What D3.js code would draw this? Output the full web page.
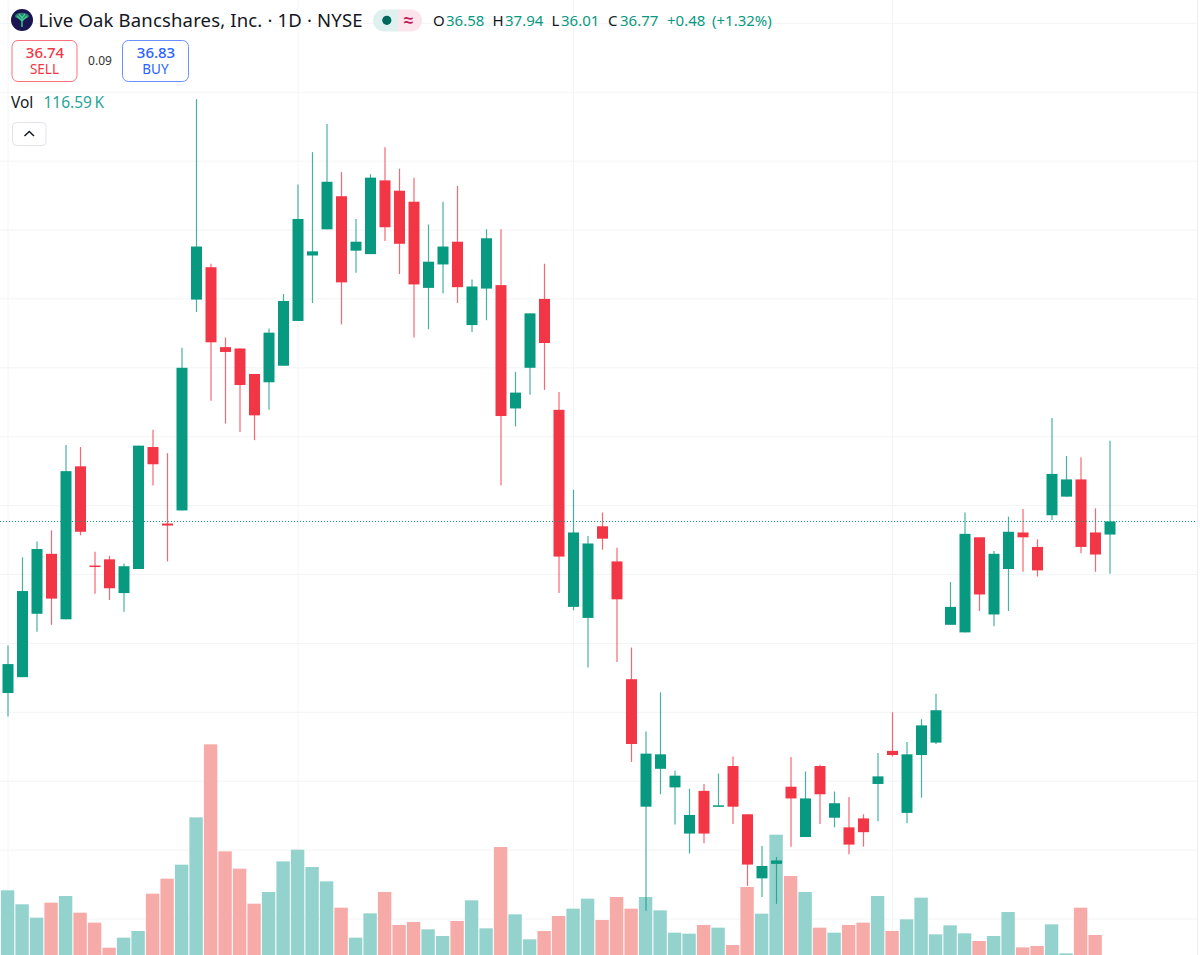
<!DOCTYPE html>
<html>
<head>
<meta charset="utf-8">
<title>Live Oak Bancshares</title>
<script src="https://cdn.jsdelivr.net/npm/d3@7"></script>
<style>
    html, body { margin: 0; padding: 0; background: #fff; }
    svg { display: block; }
    text { font-family: "Noto Sans", sans-serif; }
</style>
</head>
<body>
<div id="chart"></div>
<script>

// Daily prices, in dollars
const opens = [34.28, 34.51, 35.43, 36.30, 35.35, 37.57, 36.13, 36.22, 35.73, 36.08, 37.85, 36.74, 36.93, 39.99, 40.46, 39.30,
    39.28, 38.91, 38.79, 39.03, 39.68, 40.63, 41.01, 41.49, 40.70, 40.65, 41.72, 41.57, 41.41, 40.16, 40.50, 40.83,
    39.62, 40.15, 40.20, 38.41, 39.00, 40.00, 38.39, 35.53, 35.37, 36.70, 36.19, 34.48, 32.63, 33.18, 32.91, 32.24,
    32.86, 32.63, 33.22, 32.52, 31.59, 31.80, 32.92, 32.19, 33.22, 32.47, 32.33, 32.46, 32.96, 33.44, 32.54, 33.38,
    33.56, 35.27, 35.16, 36.54, 35.42, 36.08, 36.61, 36.40, 36.86, 37.13, 37.38, 36.61, 36.58];
const highs = [34.97, 36.25, 36.48, 36.64, 37.88, 37.85, 36.33, 36.27, 36.16, 37.87, 38.10, 37.76, 39.29, 42.90, 40.51, 39.44,
    39.28, 38.91, 39.57, 40.07, 41.66, 42.13, 42.54, 41.84, 41.16, 41.81, 42.20, 41.89, 41.76, 41.08, 41.41, 41.64,
    40.28, 41.01, 41.01, 38.94, 39.79, 40.51, 38.65, 37.23, 36.56, 36.90, 36.39, 34.94, 33.72, 34.29, 33.15, 32.89,
    32.96, 33.11, 33.36, 32.52, 32.06, 31.90, 33.35, 33.14, 33.24, 32.85, 32.77, 32.52, 33.41, 34.00, 33.57, 33.90,
    34.27, 35.89, 36.90, 36.54, 36.34, 36.84, 36.95, 36.51, 38.27, 37.72, 37.70, 36.96, 37.94];
const lows = [33.94, 34.51, 35.17, 35.27, 35.35, 36.57, 35.72, 35.63, 35.46, 36.08, 37.29, 36.19, 36.93, 39.81, 38.52, 38.19,
    38.07, 37.95, 38.39, 39.03, 39.68, 39.94, 41.01, 39.63, 40.38, 40.65, 40.84, 40.36, 39.44, 39.56, 40.08, 39.94,
    39.52, 39.69, 37.29, 38.15, 38.61, 38.68, 35.73, 35.48, 34.65, 36.36, 34.73, 33.28, 31.12, 32.81, 32.37, 31.95,
    32.10, 32.63, 32.38, 31.48, 31.32, 31.22, 32.05, 32.19, 32.38, 32.33, 31.94, 32.05, 32.42, 33.36, 32.39, 32.76,
    33.54, 35.27, 35.16, 35.47, 35.25, 35.47, 36.04, 35.97, 36.79, 37.13, 36.31, 36.04, 36.01];
const closes = [34.70, 35.76, 36.37, 35.65, 37.50, 36.62, 36.11, 35.80, 36.12, 37.87, 37.60, 36.71, 39.00, 40.76, 39.37, 39.23,
    38.75, 38.31, 39.51, 39.97, 41.16, 40.69, 41.70, 40.24, 40.83, 41.76, 41.04, 40.80, 40.21, 40.54, 40.76, 40.17,
    40.18, 40.88, 38.30, 38.64, 39.79, 39.36, 36.26, 36.61, 36.45, 36.52, 35.64, 33.54, 33.40, 33.39, 33.08, 32.51,
    32.24, 32.65, 32.63, 31.79, 31.77, 31.85, 32.75, 32.75, 32.81, 32.68, 32.08, 32.26, 33.07, 33.38, 33.39, 33.81,
    34.03, 35.53, 36.59, 35.71, 36.30, 36.62, 36.54, 36.06, 37.46, 37.38, 36.40, 36.29, 36.77];

// Volume in thousands of shares
const volumes = [1106, 896, 695, 920, 1020, 770, 620, 245, 395, 495, 1055, 1280, 1490, 2200, 3296, 1690,
    1430, 905, 1080, 1540, 1715, 1455, 1240, 845, 395, 760, 1080, 585, 630, 520, 420, 645,
    955, 535, 1755, 745, 370, 495, 720, 830, 980, 660, 1005, 830, 1005, 805, 470, 455,
    585, 545, 285, 1155, 755, 1940, 1320, 1080, 545, 470, 585, 620, 1020, 495, 670, 995,
    445, 580, 460, 345, 420, 780, 250, 270, 595, 160, 845, 435, 116.59];

// Bars where a new month starts, these get a vertical grid line
const month_starts = [0, 20, 39, 61];
const price_ticks = d3.range(31, 45);
const last_close = closes[closes.length - 1];

const quote = { sell: "36.74", spread: "0.09", buy: "36.83" };
const ohlc_items = [
    { label: "O", value: "36.58", x: 433, value_x: 446 },
    { label: "H", value: "37.94", x: 492.5, value_x: 505 },
    { label: "L", value: "36.01", x: 551.5, value_x: 561 },
    { label: "C", value: "36.77", x: 608, value_x: 620 }
];

const width = 1200, height = 955;
const up_color = "#089981", down_color = "#f23645";
const up_volume = "#92d2cc", down_volume = "#f7a9a7";
const grid_color = "#f3f4f6";

const svg = d3.select("#chart")
    .append("svg")
    .attr("width", width)
    .attr("height", height);

const xScale = d3.scaleLinear().domain([0, closes.length - 1]).range([8, 1110]);
const yScale = d3.scaleLinear().domain([36, 44]).range([574.5, 23.3]);
const volumeScale = d3.scaleLinear().domain([0, 3296]).range([964, 744.3]);

const body_width = 11;
const volume_width = 13.4;

function isUp(i) {
    return closes[i] >= opens[i];
}

function drawGrid() {

    const grid = svg.append("g");

    grid.selectAll("line.h")
        .data(price_ticks)
        .join("line")
        .attr("x1", 0)
        .attr("x2", 1197)
        .attr("y1", d => yScale(d))
        .attr("y2", d => yScale(d));

    grid.selectAll("line.v")
        .data(month_starts)
        .join("line")
        .attr("x1", d => xScale(d))
        .attr("x2", d => xScale(d))
        .attr("y1", 0)
        .attr("y2", height);

    grid.selectAll("line")
        .attr("stroke", grid_color)
        .attr("stroke-width", 1);

    // Pane border on the right
    grid.append("line")
        .attr("x1", 1197.5)
        .attr("x2", 1197.5)
        .attr("y1", 0)
        .attr("y2", height)
        .attr("stroke", "#eceef2");
}

function drawVolume() {

    svg.append("g")
        .selectAll("rect")
        .data(volumes)
        .join("rect")
        .attr("x", (d, i) => xScale(i) - volume_width / 2 - 0.4)
        .attr("width", volume_width)
        .attr("y", d => volumeScale(d))
        .attr("height", d => volumeScale(0) - volumeScale(d))
        .attr("fill", (d, i) => isUp(i) ? up_volume : down_volume)
        .attr("fill-opacity", 0.98);
}

function drawCandles() {

    const candles = svg.append("g")
        .selectAll("g")
        .data(d3.range(closes.length))
        .join("g");

    candles.append("line")
        .attr("x1", i => xScale(i))
        .attr("x2", i => xScale(i))
        .attr("y1", i => yScale(highs[i]))
        .attr("y2", i => yScale(lows[i]))
        .attr("stroke", i => isUp(i) ? up_color : down_color)
        .attr("stroke-opacity", 0.75)
        .attr("stroke-width", 1.2);

    candles.append("rect")
        .attr("x", i => xScale(i) - body_width / 2)
        .attr("width", body_width)
        .attr("y", i => yScale(Math.max(opens[i], closes[i])))
        .attr("height", i => Math.max(1.5, Math.abs(yScale(opens[i]) - yScale(closes[i]))))
        .attr("fill", i => isUp(i) ? up_color : down_color);
}

function drawPriceLine() {

    svg.append("line")
        .attr("x1", 0)
        .attr("x2", 1197)
        .attr("y1", yScale(last_close))
        .attr("y2", yScale(last_close))
        .attr("stroke", up_color)
        .attr("stroke-width", 1)
        .attr("stroke-dasharray", "1 2");
}

function addText(parent, str, x, y, size, color, anchor) {

    return parent.append("text")
        .attr("x", x)
        .attr("y", y)
        .attr("font-size", size)
        .attr("fill", color)
        .attr("text-anchor", anchor || "start")
        .text(str);
}

function drawHeader() {

    const header = svg.append("g");

    // Symbol logo
    header.append("circle")
        .attr("cx", 22)
        .attr("cy", 20)
        .attr("r", 11)
        .attr("fill", "#1b1452");
    header.append("path")
        .attr("d", "M22 27V17M22 21L17 16M22 21L27 16M22 18L19 14M22 18L25 14")
        .attr("stroke", "#3ecf8e")
        .attr("stroke-width", 1.4)
        .attr("fill", "none");
    header.append("ellipse")
        .attr("cx", 22)
        .attr("cy", 16)
        .attr("rx", 7)
        .attr("ry", 3.2)
        .attr("fill", "#3ecf8e")
        .attr("fill-opacity", 0.55);

    addText(header, "Live Oak Bancshares, Inc. \u00b7 1D \u00b7 NYSE", 38.5, 27, 18.5, "#131722")
        .attr("textLength", 324);

    // Market status pill
    header.append("path")
        .attr("d", "M398 9.5H384a11 11 0 0 0 0 22H398Z")
        .attr("fill", "#dff1ee");
    header.append("path")
        .attr("d", "M398 9.5H411a11 11 0 0 1 0 22H398Z")
        .attr("fill", "#fce4ec");
    header.append("circle")
        .attr("cx", 386.8)
        .attr("cy", 20.3)
        .attr("r", 4.6)
        .attr("fill", "#00695c");
    addText(header, "\u2248", 408.5, 26, 17, "#c2185b", "middle")
        .attr("font-weight", 700);

    // Open, high, low, close
    ohlc_items.forEach(function (d) {
        addText(header, d.label, d.x, 26, 15, "#131722");
        addText(header, d.value, d.value_x, 26, 15, up_color);
    });
    addText(header, "+0.48", 667, 26, 15, up_color);
    addText(header, "(+1.32%)", 712, 26, 15, up_color);

    // Sell and buy boxes
    header.append("rect")
        .attr("x", 12)
        .attr("y", 40.5)
        .attr("width", 65)
        .attr("height", 41)
        .attr("rx", 6)
        .attr("fill", "#fff")
        .attr("stroke", "#f7727d");
    addText(header, quote.sell, 45, 58, 15, down_color, "middle")
        .attr("font-weight", 500);
    addText(header, "SELL", 44.5, 74, 13.5, down_color, "middle");

    addText(header, quote.spread, 100, 65, 12, "#333", "middle");

    header.append("rect")
        .attr("x", 122.5)
        .attr("y", 40.5)
        .attr("width", 66)
        .attr("height", 41)
        .attr("rx", 6)
        .attr("fill", "#fff")
        .attr("stroke", "#6b8fff");
    addText(header, quote.buy, 156, 58, 15, "#2962ff", "middle")
        .attr("font-weight", 500);
    addText(header, "BUY", 155.5, 74, 13.5, "#2962ff", "middle");

    // Volume legend
    addText(header, "Vol", 11, 108, 15.5, "#131722");
    addText(header, "116.59\u2009K", 43.5, 108, 15.5, "#26a69a");

    // Collapse button
    header.append("rect")
        .attr("x", 12.5)
        .attr("y", 122.5)
        .attr("width", 33.5)
        .attr("height", 23)
        .attr("rx", 4)
        .attr("fill", "#fff")
        .attr("stroke", "#e0e3eb");
    header.append("path")
        .attr("d", "M24.5 136L29.3 131.5L34 136")
        .attr("fill", "none")
        .attr("stroke", "#131722")
        .attr("stroke-width", 1.5);
}

drawGrid();
drawVolume();
drawCandles();
drawPriceLine();
drawHeader();

</script>
</body>
</html>
